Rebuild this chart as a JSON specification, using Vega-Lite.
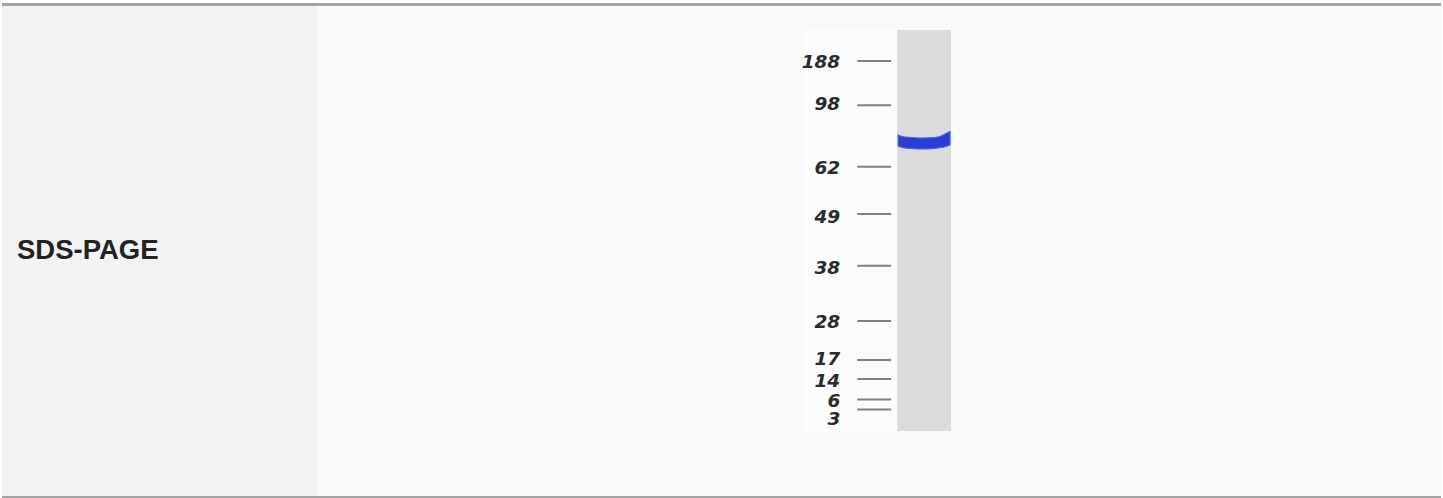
{
  "$schema": "https://vega.github.io/schema/vega-lite/v6.json",
  "width": 1443,
  "height": 498,
  "autosize": {"type": "fit", "contains": "padding"},
  "padding": 0,
  "background": "#ffffff",
  "config": {"view": {"stroke": null}},
  "datasets": {
    "cells": [
      {"cell": "label", "x0": 1, "x1": 317, "y0": 6, "y1": 496},
      {"cell": "content", "x0": 317, "x1": 1443, "y0": 6, "y1": 496}
    ],
    "gel": [{"part": "image", "x0": 804, "x1": 952, "y0": 30, "y1": 431}],
    "lane": [{"part": "lane", "x0": 898, "x1": 952, "y0": 30, "y1": 431}],
    "band": [
      {"mx": 899, "top": 135, "bottom": 146},
      {"mx": 903, "top": 136.5, "bottom": 147.5},
      {"mx": 912, "top": 137.5, "bottom": 148.5},
      {"mx": 924, "top": 138, "bottom": 149},
      {"mx": 935, "top": 137.5, "bottom": 148.5},
      {"mx": 942, "top": 136, "bottom": 147.5},
      {"mx": 947, "top": 133.5, "bottom": 146.5},
      {"mx": 951, "top": 131.5, "bottom": 145}
    ],
    "markers": [
      {"kda": "188", "tick": 61, "label": 68.3},
      {"kda": "98", "tick": 105.3, "label": 110},
      {"kda": "62", "tick": 166.7, "label": 174},
      {"kda": "49", "tick": 214, "label": 222.5},
      {"kda": "38", "tick": 265.7, "label": 274},
      {"kda": "28", "tick": 321, "label": 328},
      {"kda": "17", "tick": 360, "label": 365},
      {"kda": "14", "tick": 379, "label": 386.5},
      {"kda": "6", "tick": 399.5, "label": 406.5},
      {"kda": "3", "tick": 409.5, "label": 425}
    ],
    "borders": [
      {"edge": "top", "bx0": 1, "bx1": 1443, "by": 4.5},
      {"edge": "bottom", "bx0": 1, "bx1": 1443, "by": 497}
    ],
    "title": [{"text": "SDS-PAGE", "tx": 16, "ty": 259}]
  },
  "layer": [
    {
      "data": {"name": "cells"},
      "mark": {"type": "rect"},
      "encoding": {
        "x": {"field": "x0", "type": "quantitative", "scale": {"domain": [0, 1443], "nice": false, "zero": false}, "axis": null},
        "x2": {"field": "x1"},
        "y": {"field": "y0", "type": "quantitative", "scale": {"domain": [0, 498], "nice": false, "zero": false, "reverse": true}, "axis": null},
        "y2": {"field": "y1"},
        "color": {"field": "cell", "type": "nominal", "scale": {"domain": ["label", "content"], "range": ["#f2f2f2", "#f9f9f9"]}, "legend": null}
      }
    },
    {
      "data": {"name": "gel"},
      "mark": {"type": "rect", "fill": "#fcfcfc"},
      "encoding": {
        "x": {"field": "x0", "type": "quantitative"},
        "x2": {"field": "x1"},
        "y": {"field": "y0", "type": "quantitative"},
        "y2": {"field": "y1"}
      }
    },
    {
      "data": {"name": "lane"},
      "mark": {"type": "rect", "fill": "#dbdbdb"},
      "encoding": {
        "x": {"field": "x0", "type": "quantitative"},
        "x2": {"field": "x1"},
        "y": {"field": "y0", "type": "quantitative"},
        "y2": {"field": "y1"}
      }
    },
    {
      "data": {"name": "band"},
      "mark": {"type": "area", "orient": "vertical", "interpolate": "monotone", "fill": "#2b3dd5", "stroke": "#4f5fe0", "strokeWidth": 1.2, "opacity": 1},
      "encoding": {
        "x": {"field": "mx", "type": "quantitative"},
        "y": {"field": "top", "type": "quantitative"},
        "y2": {"field": "bottom"}
      }
    },
    {
      "data": {"name": "markers"},
      "mark": {"type": "rule", "stroke": "#808080", "strokeWidth": 2},
      "encoding": {
        "x": {"datum": 858, "type": "quantitative"},
        "x2": {"datum": 892},
        "y": {"field": "tick", "type": "quantitative"}
      }
    },
    {
      "data": {"name": "markers"},
      "mark": {"type": "text", "align": "right", "baseline": "alphabetic", "font": "DejaVu Sans", "fontSize": 18.5, "fontStyle": "italic", "fontWeight": "bold", "fill": "#2b2b2b"},
      "encoding": {
        "x": {"datum": 841, "type": "quantitative"},
        "y": {"field": "label", "type": "quantitative"},
        "text": {"field": "kda"}
      }
    },
    {
      "data": {"name": "borders"},
      "mark": {"type": "rule", "stroke": "#a3a3a3"},
      "encoding": {
        "x": {"field": "bx0", "type": "quantitative"},
        "x2": {"field": "bx1"},
        "y": {"field": "by", "type": "quantitative"},
        "strokeWidth": {"field": "edge", "type": "nominal", "scale": {"domain": ["top", "bottom"], "range": [3, 2]}, "legend": null}
      }
    },
    {
      "data": {"name": "title"},
      "mark": {"type": "text", "align": "left", "baseline": "alphabetic", "font": "Liberation Sans", "fontSize": 27.5, "fontWeight": "bold", "fill": "#222222"},
      "encoding": {
        "x": {"field": "tx", "type": "quantitative"},
        "y": {"field": "ty", "type": "quantitative"},
        "text": {"field": "text"}
      }
    }
  ]
}
